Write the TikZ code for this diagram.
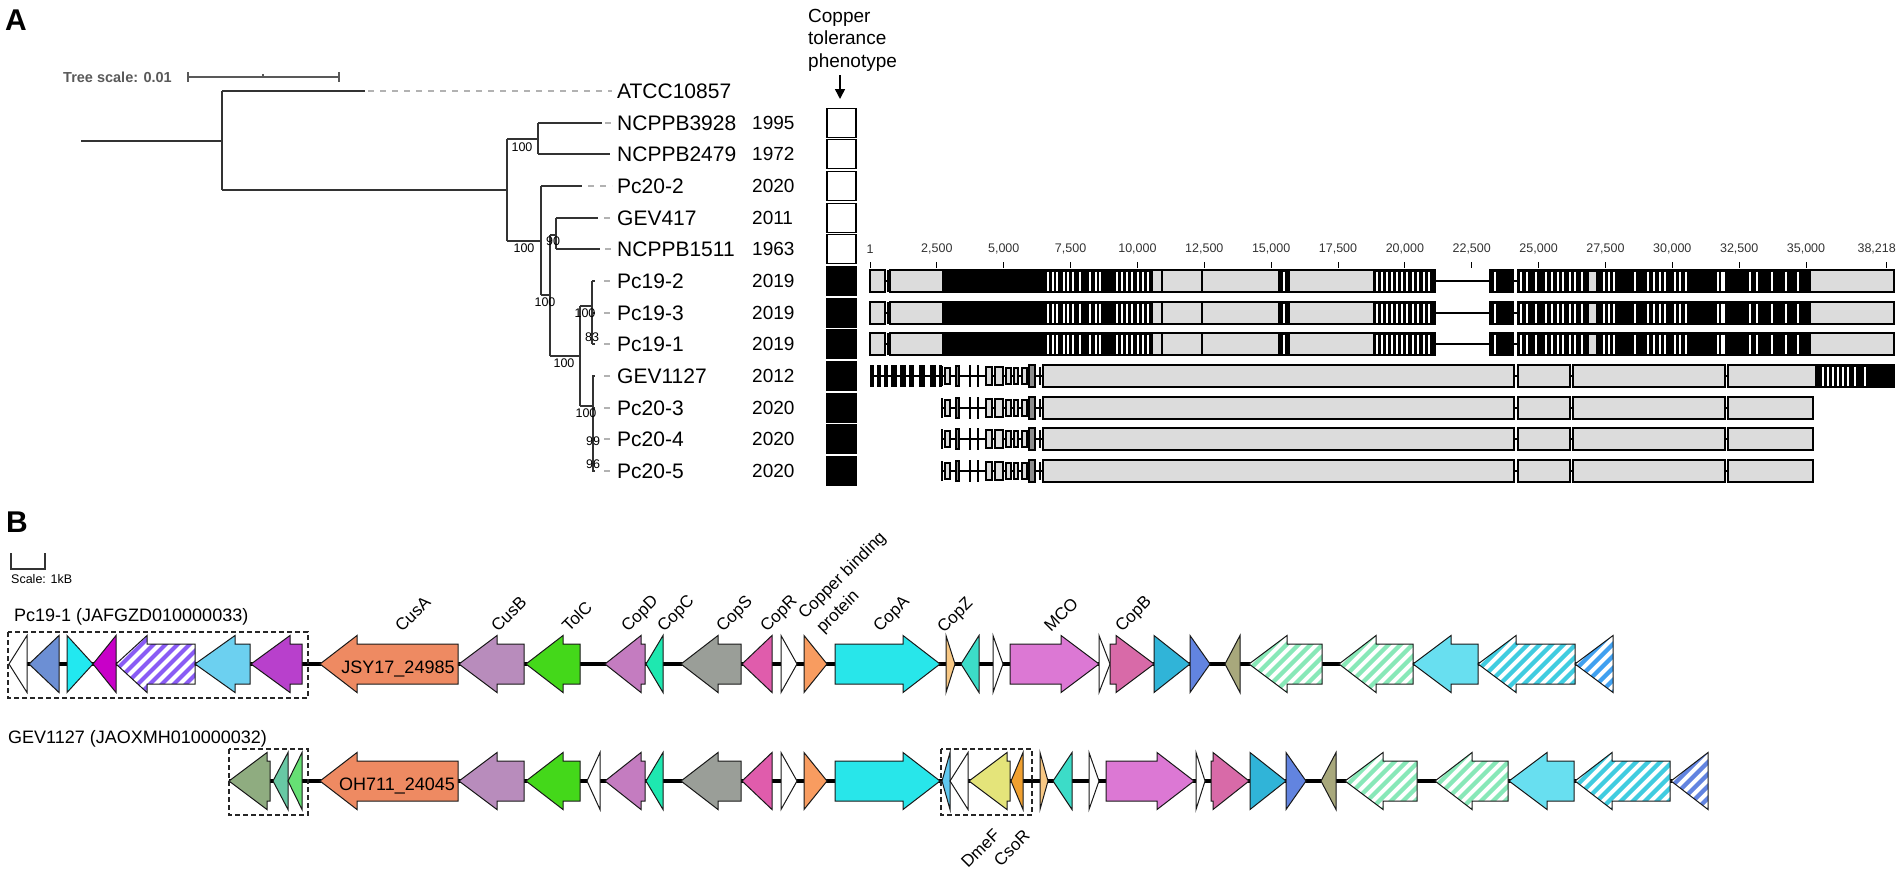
\documentclass[tikz,border=0pt]{standalone}
\usepackage{fontspec}
\setmainfont{Liberation Sans}
\usetikzlibrary{arrows.meta}
\newcommand\fsz[1]{\fontsize{#1}{#1}\selectfont}
\definecolor{cOrange}{HTML}{EE8A62}
\definecolor{cCusB}{HTML}{B88CBC}
\definecolor{cTolC}{HTML}{44D81A}
\definecolor{cCopD}{HTML}{C47CC0}
\definecolor{cCopC}{HTML}{1EE8B0}
\definecolor{cCopS}{HTML}{9A9E98}
\definecolor{cCopR}{HTML}{E05CAC}
\definecolor{cCBP}{HTML}{F89C60}
\definecolor{cCopA}{HTML}{28E6EA}
\definecolor{cCopZ}{HTML}{F8C884}
\definecolor{cTeal}{HTML}{3CDCC8}
\definecolor{cMCO}{HTML}{DC78D4}
\definecolor{cCopB}{HTML}{D86AA8}
\definecolor{cBlue}{HTML}{30B4D8}
\definecolor{cBViol}{HTML}{6284E0}
\definecolor{cOlive}{HTML}{A8A87C}
\definecolor{cHGreen}{HTML}{88E8B8}
\definecolor{cLBlue}{HTML}{68DFF0}
\definecolor{cHCyan}{HTML}{40CCE0}
\definecolor{cHBlue}{HTML}{40A0F0}
\definecolor{cSteel}{HTML}{6C8FD4}
\definecolor{cCyan}{HTML}{22E8F0}
\definecolor{cMag}{HTML}{C800C8}
\definecolor{cHPur}{HTML}{8A5CF5}
\definecolor{cSky}{HTML}{6CD0F0}
\definecolor{cPurp}{HTML}{B840CC}
\definecolor{cSage}{HTML}{8FAC80}
\definecolor{cTGreen}{HTML}{68C8A4}
\definecolor{cLGreen}{HTML}{66E074}
\definecolor{cSmallB}{HTML}{60C8F0}
\definecolor{cDmeF}{HTML}{E4E47A}
\definecolor{cCsoR}{HTML}{F0A030}
\definecolor{barg}{HTML}{DCDCDC}
% left-pointing gene: tip, head base, end, y, colour
\newcommand\geneL[5]{\filldraw[gene,fill=#5] (#1,#4) -- (#2,#4-28.5) -- (#2,#4-20) -- (#3,#4-20) -- (#3,#4+20) -- (#2,#4+20) -- (#2,#4+28.5) -- cycle;}
% right-pointing gene: start, head base, tip, y, colour
\newcommand\geneR[5]{\filldraw[gene,fill=#5] (#3,#4) -- (#2,#4-28.5) -- (#2,#4-20) -- (#1,#4-20) -- (#1,#4+20) -- (#2,#4+20) -- (#2,#4+28.5) -- cycle;}
% hatched left-pointing gene
\newcommand\hgeneL[5]{%
 \begin{scope}
 \clip (#1,#4) -- (#2,#4-28.5) -- (#2,#4-20) -- (#3,#4-20) -- (#3,#4+20) -- (#2,#4+20) -- (#2,#4+28.5) -- cycle;
 \fill[white] (#1-2,#4-30) rectangle (#3+2,#4+30);
 \foreach \k in {0,12,...,264} {\draw[#5,line width=4.2] (#1+\k-60,#4+30) -- (#1+\k,#4-30);}
 \end{scope}
 \draw[gene] (#1,#4) -- (#2,#4-28.5) -- (#2,#4-20) -- (#3,#4-20) -- (#3,#4+20) -- (#2,#4+20) -- (#2,#4+28.5) -- cycle;}
% small-box pattern of the alignment
\newcommand\smallpat[1]{%
 \draw[line width=1.5] (942,#1) -- (1043,#1);
 \draw[line width=1.5] (942,#1-10) -- (942,#1+10);
 \draw[bar,line width=1.2] (945,#1-8) rectangle (950,#1+8);
 \draw[fill=black!45,line width=1.2] (956,#1-10) rectangle (959,#1+10);
 \draw[line width=1.6] (970,#1-11) -- (970,#1+11) (978,#1-11) -- (978,#1+11);
 \draw[bar,line width=1.2] (986,#1-9) rectangle (992,#1+9);
 \draw[bar,line width=1.2] (995,#1-9) rectangle (1003,#1+9);
 \draw[bar,line width=1.2] (1006,#1-8) rectangle (1011,#1+8);
 \draw[bar,line width=1.2] (1014,#1-8) rectangle (1018,#1+8);
 \draw[bar,line width=1.2] (1022,#1-8) rectangle (1027,#1+8);
 \draw[fill=black!45,line width=1.2] (1029,#1-11) rectangle (1035,#1+11);
 \draw[line width=1.2] (1040,#1-9) -- (1040,#1+9);}
\newcommand\bigboxes[2]{%
 \draw[line width=1.5] (1514,#1) -- (1518,#1) (1570,#1) -- (1573,#1) (1725,#1) -- (1728,#1);
 \draw[bar] (1043,#1-11) rectangle (1514,#1+11);
 \draw[bar] (1518,#1-11) rectangle (1570,#1+11);
 \draw[bar] (1573,#1-11) rectangle (1725,#1+11);
 \draw[bar] (1728,#1-11) rectangle (#2,#1+11);}
\begin{document}
\begin{tikzpicture}[x=1pt,y=-1pt,
  tree/.style={draw=black!80,line width=1.4},
  leader/.style={draw=black!30,line width=1.2,dash pattern=on 6 off 6},
  lab/.style={anchor=west,inner sep=0,font=\fsz{21}},
  yr/.style={anchor=west,inner sep=0,font=\fsz{19}},
  supv/.style={inner sep=0,font=\fsz{12.5}},
  pbox/.style={draw=black,line width=1.5},
  bar/.style={draw=black,line width=1.5,fill=barg},
  wst/.style={draw=white,line width=1.6},
  rl/.style={inner sep=0,font=\fsz{12.5},text=black!80},
  gene/.style={draw=black!90,line width=1,line join=miter},
  backbone/.style={draw=black,line width=3.5},
  glab/.style={rotate=45,anchor=base west,inner sep=0,font=\fsz{17}},
  glabe/.style={rotate=45,anchor=base east,inner sep=0,font=\fsz{17}},
  dbox/.style={draw=black!85,line width=1.6,dash pattern=on 5 off 3},
]
\useasboundingbox (0,0) rectangle (1902,873);
% ---------------- Panel A ----------------
\node[anchor=base west,inner sep=0,font=\fsz{30}\bfseries] (pA) at (5,30) {A};
\node[anchor=base west,inner sep=0,font=\fsz{14.5}\bfseries,text=black!65] (ts) at (63,82) {Tree scale: 0.01};
\coordinate (sb1) at (188,77); \coordinate (sb2) at (339,77);
\draw[draw=black!65,line width=1.3] (sb1) -- (sb2) (188,72) -- (188,82) (339,72) -- (339,82) (263,77) -- (263,74);
% tree
\draw[tree] (81,141) -- (222,141) (222,91) -- (222,190) (222,91) -- (365,91)
 (222,190) -- (507,190) (507,139) -- (507,241) (507,139) -- (538,139)
 (538,123) -- (538,154) (538,123) -- (602,123) (538,154) -- (610,154)
 (507,241) -- (541,241) (541,186) -- (541,295) (541,186) -- (582,186)
 (541,295) -- (550,295) (550,235) -- (550,356) (550,235) -- (556,235)
 (556,218) -- (556,249) (556,218) -- (598,218) (556,249) -- (600,249)
 (550,356) -- (580,356) (580,306) -- (580,406) (580,306) -- (592,306)
 (592,281) -- (592,344) (580,406) -- (593,406) (593,376) -- (593,471);
\draw[leader] (368,91) -- (612,91);
\draw[leader] (605,123) -- (612,123);
\draw[leader] (588,186) -- (612,186);
\draw[leader] (604,218) -- (612,218);
\draw[leader] (605,249) -- (612,249);
\foreach \y in {281,313,344,376,408,439,471}{
  \draw[tree] (592,\y) -- (595,\y);
  \draw[leader] (604,\y) -- (611,\y);}
% support values
\node[supv] (s1) at (522,147) {100};
\node[supv] (s2) at (524,248) {100};
\node[supv] (s3) at (553,241) {90};
\node[supv] (s4) at (545,302) {100};
\node[supv] (s5) at (564,363) {100};
\node[supv] (s6) at (585,313) {100};
\node[supv] (s7) at (592,337) {83};
\node[supv] (s8) at (586,413) {100};
\node[supv] (s9) at (593,441) {99};
\node[supv] (s10) at (593,464) {96};
% labels and years
\node[lab] (L0) at (617,91) {ATCC10857};
\node[lab] (L1) at (617,123) {NCPPB3928};
\node[lab] (L2) at (617,154) {NCPPB2479};
\node[lab] (L3) at (617,186) {Pc20-2};
\node[lab] (L4) at (617,218) {GEV417};
\node[lab] (L5) at (617,249) {NCPPB1511};
\node[lab] (L6) at (617,281) {Pc19-2};
\node[lab] (L7) at (617,313) {Pc19-3};
\node[lab] (L8) at (617,344) {Pc19-1};
\node[lab] (L9) at (617,376) {GEV1127};
\node[lab] (L10) at (617,408) {Pc20-3};
\node[lab] (L11) at (617,439) {Pc20-4};
\node[lab] (L12) at (617,471) {Pc20-5};
\node[yr] (Y1) at (752,123) {1995};
\node[yr] (Y2) at (752,154) {1972};
\node[yr] (Y3) at (752,186) {2020};
\node[yr] (Y4) at (752,218) {2011};
\node[yr] (Y5) at (752,249) {1963};
\node[yr] (Y6) at (752,281) {2019};
\node[yr] (Y7) at (752,313) {2019};
\node[yr] (Y8) at (752,344) {2019};
\node[yr] (Y9) at (752,376) {2012};
\node[yr] (Y10) at (752,408) {2020};
\node[yr] (Y11) at (752,439) {2020};
\node[yr] (Y12) at (752,471) {2020};
% phenotype
\node[anchor=base west,inner sep=0,font=\fsz{19}] (ph1) at (808,22) {Copper};
\node[anchor=base west,inner sep=0,font=\fsz{19}] (ph2) at (808,44) {tolerance};
\node[anchor=base west,inner sep=0,font=\fsz{19}] (ph3) at (808,67) {phenotype};
\coordinate (ar1) at (840,75); \coordinate (ar2) at (840,99);
\draw[line width=1.5,-{Triangle[length=10pt,width=10pt]}] (ar1) -- (ar2);
\foreach \y in {123,154,186,218,249} \draw[pbox,fill=white] (827,\y-14.5) rectangle (856,\y+14.5);
\foreach \y in {281,313,344,376,408,439,471} \draw[pbox,fill=black] (827,\y-14.5) rectangle (856,\y+14.5);
% ruler (positions in thousands of bp)
\foreach \p/\t in {0/1,2.5/{2,500},5/{5,000},7.5/{7,500},10/{10,000},12.5/{12,500},15/{15,000},17.5/{17,500},20/{20,000},22.5/{22,500},25/{25,000},27.5/{27,500},30/{30,000},32.5/{32,500},35/{35,000}}{
  \draw[line width=1] ({870+\p*26.743},262) -- ({870+\p*26.743},268);
  \node[rl] at ({870+\p*26.743},249) {\t};}
\draw[line width=1] (1886,262) -- (1886,268);
\node[rl,anchor=east] (rend) at (1896,249) {38,218};
% Pc19 rows
\foreach \y in {281,313,344}{
  \draw[line width=1.5] (885,\y) -- (890,\y);
  \draw[line width=2] (1435,\y) -- (1490,\y);
  \draw[line width=1.5] (1513,\y) -- (1518,\y);
  \draw[bar] (870,\y-11) rectangle (885,\y+11);
  \draw[line width=1.5] (888,\y-11) -- (888,\y+11);
  \draw[bar] (890,\y-11) rectangle (1435,\y+11);
  \fill (942,\y-11) rectangle (1153,\y+11);
  \fill (1278,\y-11) rectangle (1290,\y+11);
  \fill (1373,\y-11) rectangle (1435,\y+11);
  \foreach \s in {1048,1053,1057,1064,1068,1073,1080,1090,1096,1100,1117,1122,1127,1132,1138,1143,1148,1284,1377,1382,1387,1392,1397,1402,1407,1413,1418,1424,1429}
    \draw[wst] (\s,\y-9.5) -- (\s,\y+9.5);
  \draw[line width=1.2] (1162,\y-11) -- (1162,\y+11) (1202,\y-11) -- (1202,\y+11);
  \fill (1490,\y-11) rectangle (1513,\y+11);
  \draw[bar] (1518,\y-11) rectangle (1894,\y+11);
  \fill (1518,\y-11) rectangle (1811,\y+11);
  \fill[barg] (1589,\y-9.5) rectangle (1596,\y+9.5);
  \foreach \s in {1495,1521,1527,1536,1546,1552,1558,1563,1570,1575,1582,1604,1609,1614,1635,1648,1654,1660,1665,1675,1680,1686,1718,1722,1724,1750,1757,1772,1786,1798}
    \draw[wst] (\s,\y-9.5) -- (\s,\y+9.5);
  \draw[line width=1.5] (890,\y-11) rectangle (1435,\y+11) (1490,\y-11) rectangle (1513,\y+11) (1518,\y-11) rectangle (1894,\y+11);}
% GEV1127 row
\draw[line width=1.5] (870,376) -- (942,376);
\foreach \a/\b in {870/874,877/881,884/888,891/897,900/906,909/914,919/925,930/936,939/942}
  \fill (\a,365) rectangle (\b,387);
\smallpat{376}
\bigboxes{376}{1894}
\fill (1815,365) rectangle (1894,387);
\foreach \s in {1823,1828,1833,1838,1843,1848,1855,1865} \draw[wst] (\s,366.5) -- (\s,385.5);
\draw[line width=1.5] (1728,365) rectangle (1894,387);
% Pc20 rows
\foreach \y in {408,439,471}{\smallpat{\y}\bigboxes{\y}{1813}}
% ---------------- Panel B ----------------
\node[anchor=base west,inner sep=0,font=\fsz{30}\bfseries] (pB) at (6,532) {B};
\draw[line width=1.2,draw=black!80] (11,553) -- (11,569) -- (45,569) -- (45,553);
\node[anchor=base west,inner sep=0,font=\fsz{12.5}] (scl) at (11,583) {Scale: 1kB};
\node[anchor=base west,inner sep=0,font=\fsz{18}] (r1) at (14,621) {Pc19-1 (JAFGZD010000033)};
\node[anchor=base west,inner sep=0,font=\fsz{18}] (r2) at (8,743) {GEV1127 (JAOXMH010000032)};
% row 1
\coordinate (b1a) at (27,664); \coordinate (b1b) at (1613,664);
\draw[backbone] (b1a) -- (b1b);
\geneL{9}{27}{27}{664}{white}
\geneL{29}{59}{59}{664}{cSteel}
\geneR{67}{67}{93}{664}{cCyan}
\geneL{93}{116}{116}{664}{cMag}
\hgeneL{116}{147}{195}{664}{cHPur}
\geneL{195}{235}{250}{664}{cSky}
\geneL{251}{290}{302}{664}{cPurp}
\geneL{320}{357}{458}{664}{cOrange}
\geneL{459}{497}{524}{664}{cCusB}
\geneL{526}{563}{580}{664}{cTolC}
\geneL{605}{641}{645}{664}{cCopD}
\geneL{646}{663}{663}{664}{cCopC}
\geneL{681}{718}{741}{664}{cCopS}
\geneL{742}{772}{772}{664}{cCopR}
\geneR{781}{781}{797}{664}{white}
\geneR{804}{804}{827}{664}{cCBP}
\geneR{835}{903}{940}{664}{cCopA}
\geneR{946}{946}{955}{664}{cCopZ}
\geneL{961}{979}{979}{664}{cTeal}
\geneR{993}{993}{1003}{664}{white}
\geneR{1010}{1061}{1099}{664}{cMCO}
\geneR{1099}{1099}{1110}{664}{white}
\geneR{1110}{1116}{1154}{664}{cCopB}
\geneR{1154}{1154}{1190}{664}{cBlue}
\geneR{1190}{1190}{1210}{664}{cBViol}
\geneL{1225}{1240}{1240}{664}{cOlive}
\hgeneL{1249}{1287}{1322}{664}{cHGreen}
\hgeneL{1339}{1376}{1413}{664}{cHGreen}
\geneL{1413}{1451}{1478}{664}{cLBlue}
\hgeneL{1478}{1516}{1575}{664}{cHCyan}
\hgeneL{1575}{1613}{1613}{664}{cHBlue}
\draw[dbox] (8,632) rectangle (308,698);
\node[inner sep=0,anchor=base,font=\fsz{18}] (g1) at (398,673) {JSY17\_24985};
\node[glab] (t1) at (402,633) {CusA};
\node[glab] (t2) at (498,633) {CusB};
\node[glab] (t3) at (569,633) {TolC};
\node[glab] (t4) at (628,633) {CopD};
\node[glab] (t5) at (664,633) {CopC};
\node[glab] (t6) at (723,633) {CopS};
\node[glab] (t7) at (767,633) {CopR};
\node[glab] (t8) at (805,620) {Copper binding};
\node[glab] (t9) at (823,634) {protein};
\node[glab] (t10) at (880,633) {CopA};
\node[glab] (t11) at (944,634) {CopZ};
\node[glab] (t12) at (1051,633) {MCO};
\node[glab] (t13) at (1122,633) {CopB};
% row 2
\coordinate (b2a) at (229,781); \coordinate (b2b) at (1708,781);
\draw[backbone] (b2a) -- (b2b);
\geneL{229}{267}{270}{781}{cSage}
\geneL{273}{288}{288}{781}{cTGreen}
\geneL{288}{302}{302}{781}{cLGreen}
\geneL{320}{357}{458}{781}{cOrange}
\geneL{459}{497}{524}{781}{cCusB}
\geneL{526}{563}{580}{781}{cTolC}
\geneL{587}{600}{600}{781}{white}
\geneL{605}{641}{645}{781}{cCopD}
\geneL{646}{663}{663}{781}{cCopC}
\geneL{681}{718}{741}{781}{cCopS}
\geneL{742}{772}{772}{781}{cCopR}
\geneR{781}{781}{797}{781}{white}
\geneR{804}{804}{827}{781}{cCBP}
\geneR{835}{903}{940}{781}{cCopA}
\geneL{942}{950}{950}{781}{cSmallB}
\geneL{950}{968}{968}{781}{white}
\geneL{969}{1007}{1010}{781}{cDmeF}
\geneL{1011}{1023}{1023}{781}{cCsoR}
\geneR{1040}{1040}{1048}{781}{cCopZ}
\geneL{1053}{1072}{1072}{781}{cTeal}
\geneR{1089}{1089}{1099}{781}{white}
\geneR{1106}{1157}{1194}{781}{cMCO}
\geneR{1196}{1196}{1205}{781}{white}
\geneR{1211}{1213}{1249}{781}{cCopB}
\geneR{1250}{1250}{1286}{781}{cBlue}
\geneR{1286}{1286}{1306}{781}{cBViol}
\geneL{1321}{1336}{1336}{781}{cOlive}
\hgeneL{1345}{1383}{1417}{781}{cHGreen}
\hgeneL{1435}{1472}{1508}{781}{cHGreen}
\geneL{1509}{1547}{1574}{781}{cLBlue}
\hgeneL{1575}{1612}{1670}{781}{cHCyan}
\hgeneL{1671}{1708}{1708}{781}{cBViol}
\draw[dbox] (229,749) rectangle (308,815);
\draw[dbox] (941,749) rectangle (1032,815);
\node[inner sep=0,anchor=base,font=\fsz{18}] (g2) at (397,790) {OH711\_24045};
\node[glabe] (t14) at (1001,836) {DmeF};
\node[glabe] (t15) at (1031,837) {CsoR};
\end{tikzpicture}
\end{document}
